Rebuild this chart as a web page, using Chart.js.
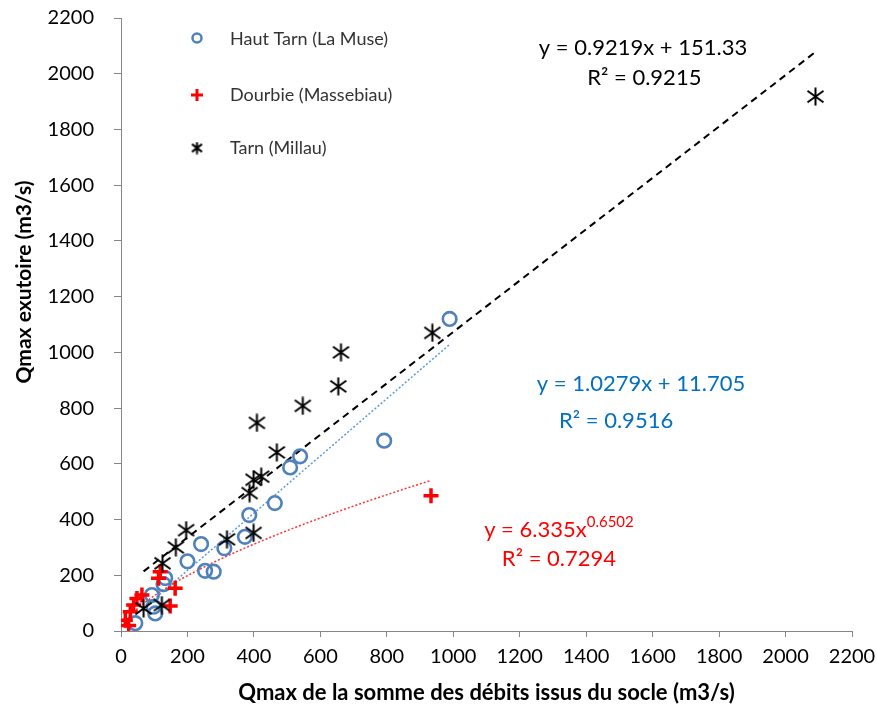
<!DOCTYPE html>
<html>
<head>
<meta charset="utf-8">
<script src="https://cdn.jsdelivr.net/npm/chart.js@4.4.1/dist/chart.umd.min.js"></script>
<style>
  body { margin: 0; background: #fff; }
  #wrap { width: 877px; height: 712px; }
</style>
</head>
<body>
<div id="wrap"><canvas id="myChart" width="877" height="712"></canvas></div>
<script>
// Haut Tarn (La Muse)
const hautX = [989, 792, 539, 509, 463, 386, 373, 311, 241, 200, 253, 279, 133, 128, 93, 98, 103, 43];
const hautY = [1120, 683, 627, 587, 459, 416, 338, 297, 312, 250, 216, 213, 190, 168, 129, 87, 63, 28];

// Dourbie (Massebiau)
const dourbieX = [933, 118, 113, 163, 63, 48, 148, 38, 28, 13, 23];
const dourbieY = [485, 213, 189, 153, 129, 117, 90, 93, 69, 39, 20];

// Tarn (Millau)
const tarnX = [2090, 937, 662, 654, 547, 409, 469, 422, 399, 387, 399, 319, 196, 165, 125, 123, 68];
const tarnY = [1918, 1070, 1000, 878, 808, 747, 641, 554, 543, 495, 352, 329, 362, 300, 243, 93, 81];

// trend lines (coefficients shown on the chart)
const tarnFit = { a: 0.9219, b: 151.33 };
const hautFit = { a: 1.0279, b: 11.705 };
const dourbieFit = { c: 6.335, p: 0.6502 };

const xTicks = [0, 200, 400, 600, 800, 1000, 1200, 1400, 1600, 1800, 2000, 2200];
const yTicks = [0, 200, 400, 600, 800, 1000, 1200, 1400, 1600, 1800, 2000, 2200];

const pts = (xs, ys) => xs.map((x, i) => ({ x: x, y: ys[i] }));

const linePts = (xs, fit) => {
    const lo = Math.min(...xs), hi = Math.max(...xs);
    return [lo, hi].map(x => ({ x: x, y: fit.a * x + fit.b }));
};

const powerPts = (xs, fit) => {
    const lo = Math.min(...xs), hi = Math.max(...xs);
    const out = [];
    for (let i = 0; i <= 60; i++) {
        const x = lo + (hi - lo) * i / 60;
        out.push({ x: x, y: fit.c * Math.pow(x, fit.p) });
    }
    return out;
};

// excel style star marker: X with a vertical bar
const starImg = (size, lw) => {
    const c = document.createElement('canvas');
    c.width = size; c.height = size;
    const g = c.getContext('2d');
    g.strokeStyle = '#000';
    g.lineWidth = lw;
    const m = size / 2;
    g.beginPath();
    g.moveTo(m, 0.5); g.lineTo(m, size - 0.5);
    g.moveTo(1.5, size * 0.2); g.lineTo(size - 1.5, size * 0.8);
    g.moveTo(size - 1.5, size * 0.2); g.lineTo(1.5, size * 0.8);
    g.stroke();
    return c;
};

const FONT = 'Lato, "Open Sans", sans-serif';
const BLUE = '#4F81BD';

const labelsPlugin = {
    id: 'labels',
    afterDraw(chart) {
        const { ctx, scales: { x, y }, chartArea } = chart;
        ctx.save();
        ctx.textBaseline = 'middle';
        ctx.textAlign = 'center';

        // equations
        ctx.font = '22px ' + FONT;
        ctx.fillStyle = '#000';
        ctx.fillText('y = 0.9219x + 151.33', x.getPixelForValue(1571), y.getPixelForValue(2092));
        ctx.fillText('R² = 0.9215', x.getPixelForValue(1575), y.getPixelForValue(1986));

        ctx.fillStyle = '#0070C0';
        ctx.fillText('y = 1.0279x + 11.705', x.getPixelForValue(1565), y.getPixelForValue(886));
        ctx.fillText('R² = 0.9516', x.getPixelForValue(1490), y.getPixelForValue(754));

        ctx.fillStyle = '#FF0000';
        const base = 'y = 6.335x';
        ctx.font = '22px ' + FONT;
        const w1 = ctx.measureText(base).width;
        ctx.font = '15px ' + FONT;
        const w2 = ctx.measureText('0.6502').width;
        const cx = x.getPixelForValue(1318), cy = y.getPixelForValue(362);
        const left = cx - (w1 + w2) / 2;
        ctx.textAlign = 'left';
        ctx.font = '22px ' + FONT;
        ctx.fillText(base, left, cy);
        ctx.font = '15px ' + FONT;
        ctx.fillText('0.6502', left + w1, cy - 8);
        ctx.textAlign = 'center';
        ctx.font = '22px ' + FONT;
        ctx.fillText('R² = 0.7294', x.getPixelForValue(1318), y.getPixelForValue(258));

        // legend
        ctx.textAlign = 'left';
        ctx.font = '18px ' + FONT;
        ctx.fillStyle = '#333';
        ctx.fillText('Haut Tarn (La Muse)', 230, 39);
        ctx.fillText('Dourbie (Massebiau)', 230, 95);
        ctx.fillText('Tarn (Millau)', 230, 148);

        ctx.strokeStyle = BLUE;
        ctx.lineWidth = 2.5;
        ctx.beginPath();
        ctx.arc(197, 38, 4.5, 0, Math.PI * 2);
        ctx.stroke();

        ctx.strokeStyle = '#FF0000';
        ctx.lineWidth = 3;
        ctx.beginPath();
        ctx.moveTo(191, 95); ctx.lineTo(203, 95);
        ctx.moveTo(197, 89); ctx.lineTo(197, 101);
        ctx.stroke();

        ctx.drawImage(starImg(13, 2), 190.5, 141.5);

        // axis titles
        ctx.fillStyle = '#000';
        ctx.textAlign = 'center';
        ctx.font = 'bold 22px ' + FONT;
        ctx.fillText('Qmax de la somme des débits issus du socle (m3/s)', (chartArea.left + chartArea.right) / 2, 693);
        ctx.font = 'bold 21px ' + FONT;
        ctx.translate(24, 282);
        ctx.rotate(-Math.PI / 2);
        ctx.fillText('Qmax exutoire (m3/s)', 0, 0);
        ctx.restore();
    }
};

const ctx = document.getElementById('myChart');

new Chart(ctx, {
    type: 'scatter',
    data: {
        datasets: [{
            label: 'Haut Tarn (La Muse)',
            data: pts(hautX, hautY),
            pointStyle: 'circle',
            pointRadius: 6.8,
            pointBorderWidth: 2.6,
            borderColor: BLUE,
            backgroundColor: 'rgba(0,0,0,0)',
            order: 2
        }, {
            label: 'Dourbie (Massebiau)',
            data: pts(dourbieX, dourbieY),
            pointStyle: 'cross',
            pointRadius: 7.5,
            pointBorderWidth: 3.5,
            borderColor: '#FF0000',
            backgroundColor: '#FF0000',
            order: 1
        }, {
            label: 'Tarn (Millau)',
            data: pts(tarnX, tarnY),
            pointStyle: starImg(19, 2),
            order: 0
        }, {
            label: 'tarn fit',
            data: linePts(tarnX, tarnFit),
            showLine: true,
            borderColor: '#000',
            borderWidth: 2,
            borderDash: [7, 5],
            pointRadius: 0,
            order: 5
        }, {
            label: 'haut fit',
            data: linePts(hautX, hautFit),
            showLine: true,
            borderColor: '#5B9BD5',
            borderWidth: 1.5,
            borderDash: [2, 2],
            pointRadius: 0,
            order: 4
        }, {
            label: 'dourbie fit',
            data: powerPts(dourbieX, dourbieFit),
            showLine: true,
            borderColor: '#FF3333',
            borderWidth: 1.5,
            borderDash: [2, 2],
            pointRadius: 0,
            tension: 0,
            order: 3
        }]
    },
    options: {
        responsive: false,
        animation: false,
        layout: { autoPadding: false, padding: { top: 18, right: 25, left: 0, bottom: 0 } },
        plugins: {
            legend: { display: false },
            tooltip: { enabled: false }
        },
        scales: {
            x: {
                type: 'linear',
                min: 0,
                max: 2200,
                afterBuildTicks: (s) => { s.ticks = xTicks.map(v => ({ value: v })); },
                afterFit: (s) => { s.height = 81; s.paddingLeft = 0; s.paddingRight = 0; },
                ticks: { color: '#000', font: { family: FONT, size: 20 }, padding: 8, maxRotation: 0, callback: v => String(v) },
                grid: { drawOnChartArea: false, tickLength: 6, color: '#868686' },
                border: { color: '#868686', width: 1 }
            },
            y: {
                min: 0,
                max: 2200,
                afterBuildTicks: (s) => { s.ticks = yTicks.map(v => ({ value: v })); },
                afterFit: (s) => { s.width = 121; s.paddingTop = 0; s.paddingBottom = 0; },
                ticks: { color: '#000', font: { family: FONT, size: 20 }, padding: 20, callback: v => String(v) },
                grid: { drawOnChartArea: false, tickLength: 7, color: '#868686' },
                border: { color: '#868686', width: 1 }
            }
        }
    },
    plugins: [labelsPlugin]
});
</script>
</body>
</html>
